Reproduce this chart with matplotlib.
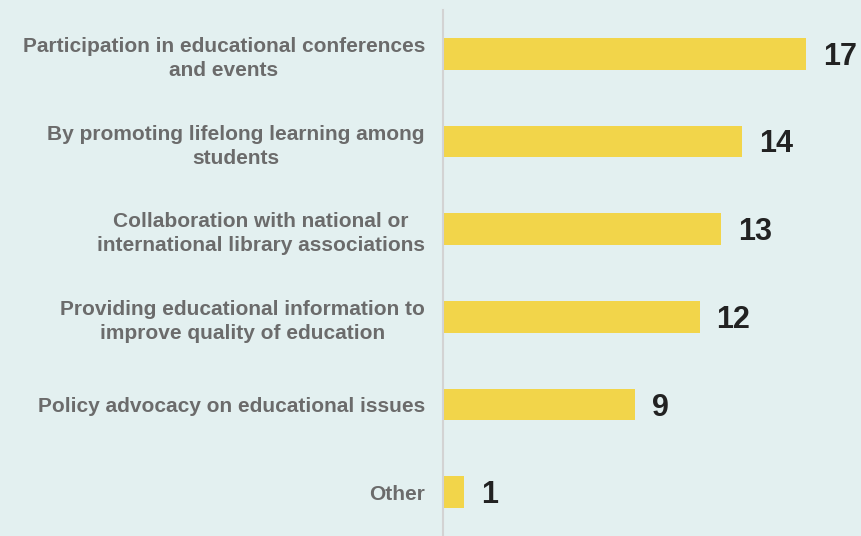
import matplotlib.pyplot as plt

categories = [
    "Participation in educational conferences\nand events",
    "By promoting lifelong learning among\nstudents",
    "Collaboration with national or\ninternational library associations",
    "Providing educational information to\nimprove quality of education",
    "Policy advocacy on educational issues",
    "Other",
]
values = [17, 14, 13, 12, 9, 1]

bg = "#e3f0f0"
bar_color = "#f2d54a"

plt.rcParams['font.family'] = ['Liberation Sans', 'DejaVu Sans']

fig = plt.figure(figsize=(8.62, 5.36), dpi=100, facecolor=bg)
ax = fig.add_axes([443 / 862, 0.0, 1 - 443 / 862, 526 / 536])
ax.set_facecolor(bg)

pos = list(range(len(values)))
ax.barh(pos, values, height=0.36, color=bar_color, left=0)
ax.set_ylim(len(values) - 0.5, -0.5)
ax.set_xlim(0, 19.6)

for p, v in zip(pos, values):
    ax.annotate(str(v), (v, p), xytext=(17, -3), textcoords="offset pixels",
                ha="left", va="center", fontsize=22, fontweight="bold", color="#222222")

ax.set_yticks(pos)
ax.set_yticklabels(categories, fontsize=15, fontweight="bold", color="#6b6b6b",
                   multialignment="center", linespacing=1.35)
ax.tick_params(axis="y", length=0, pad=13)
ax.set_xticks([])

for s in ["top", "right", "bottom"]:
    ax.spines[s].set_visible(False)
ax.spines["left"].set_color("#d3d3d3")
ax.spines["left"].set_linewidth(1.5)

fig.savefig("out.png", dpi=100, facecolor=bg)
